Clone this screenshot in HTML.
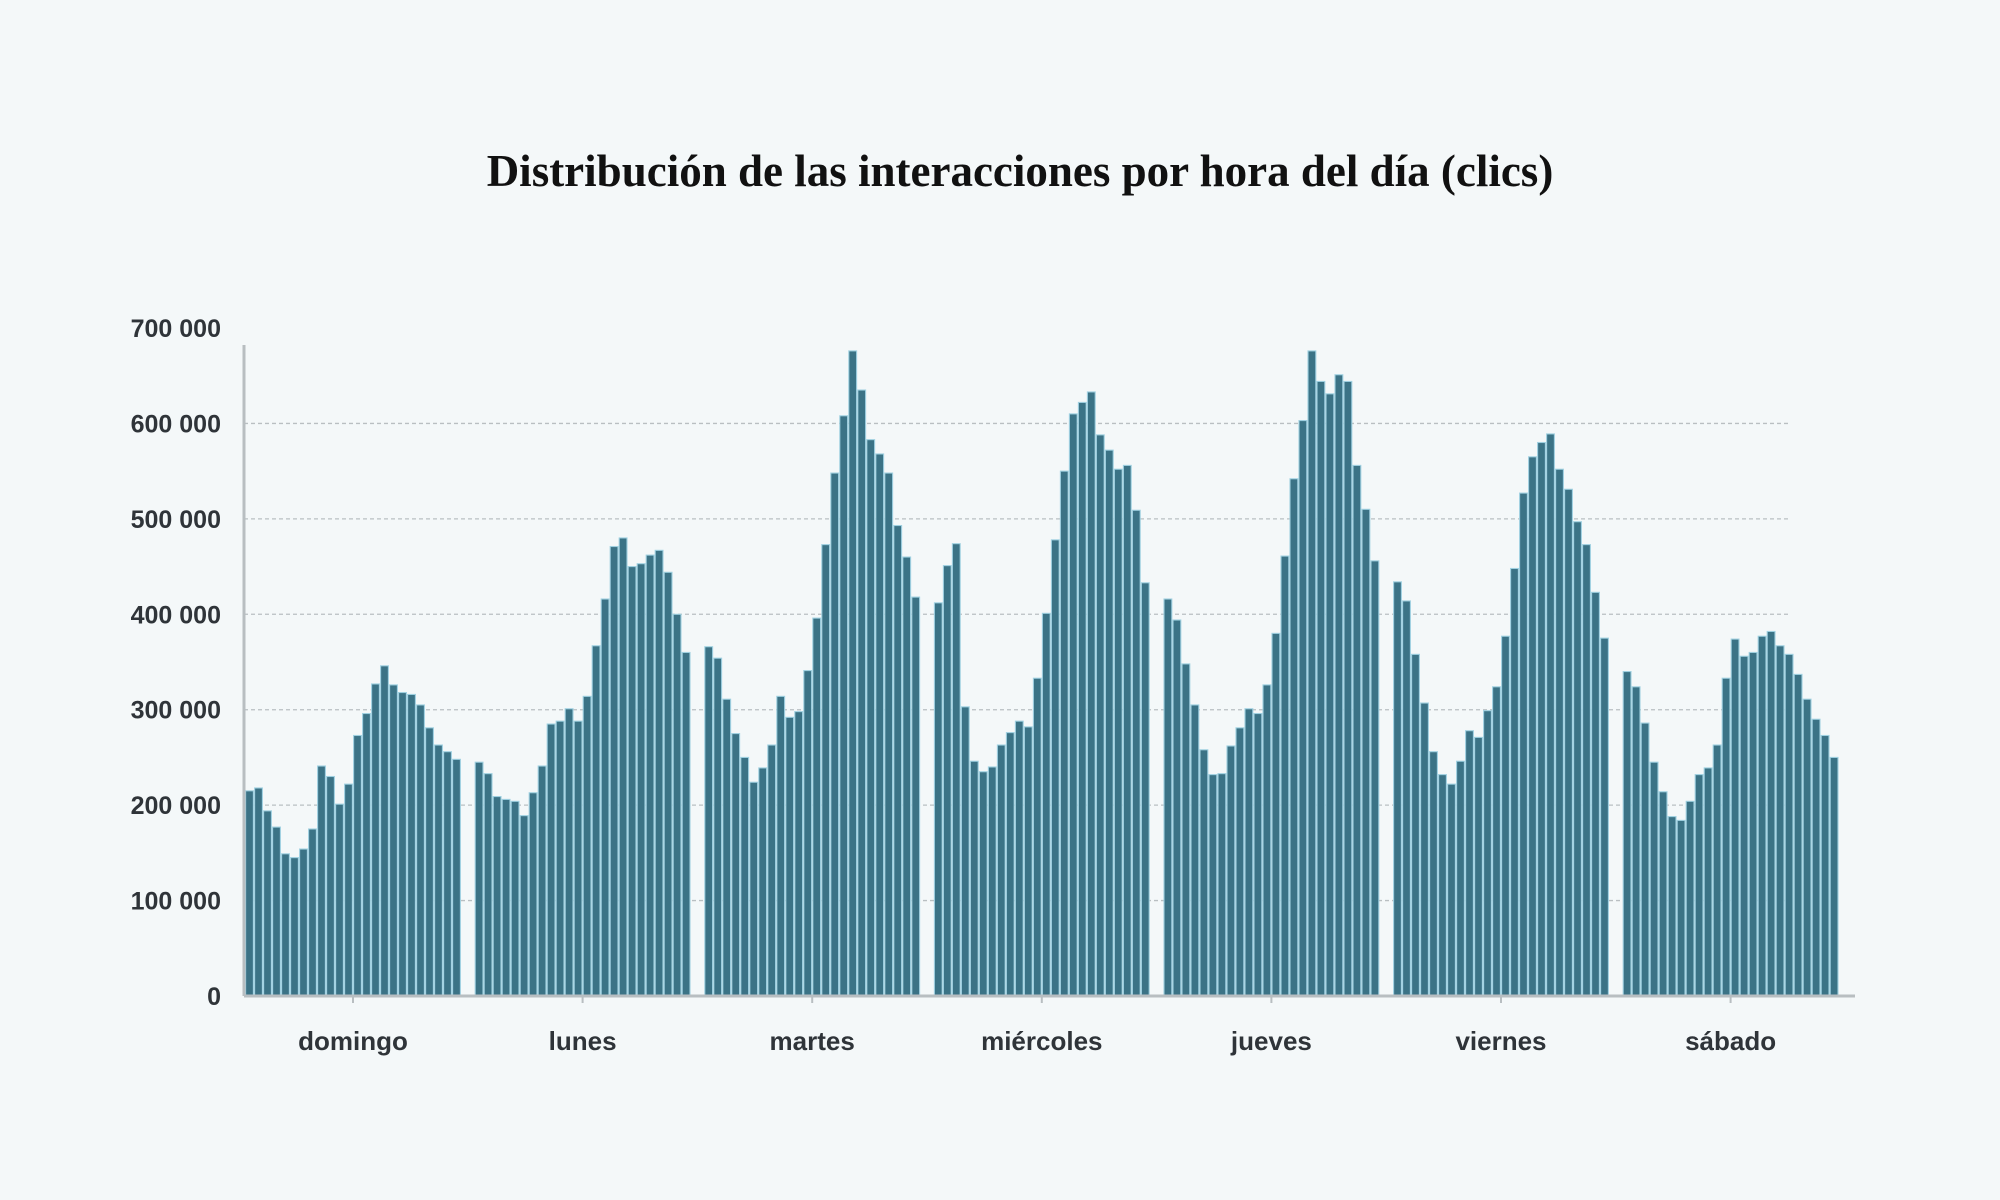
<!DOCTYPE html>
<html><head><meta charset="utf-8"><style>
html,body{margin:0;padding:0;background:#f4f8f9;}
svg{display:block;}
</style></head><body>
<svg width="2000" height="1200" viewBox="0 0 2000 1200" xmlns="http://www.w3.org/2000/svg">
<rect width="2000" height="1200" fill="#f4f8f9"/>
<text x="1020" y="186" text-anchor="middle" font-family="'Liberation Serif', serif" font-weight="bold" font-size="45" fill="#111">Distribución de las interacciones por hora del día (clics)</text>
<g id="grid"></g>
<g id="bars"></g>
<g id="axes"></g>
</svg>
<script>
const days = ["domingo","lunes","martes","miércoles","jueves","viernes","sábado"];
const yTicks = [0,100000,200000,300000,400000,500000,600000,700000];
const yTickLabels = ["0","100 000","200 000","300 000","400 000","500 000","600 000","700 000"];
const domingo = [215,218,194,177,149,145,154,175,241,230,201,222,273,296,327,346,326,318,316,305,281,263,256,248];
const lunes = [245,233,209,206,204,189,213,241,285,288,301,288,314,367,416,471,480,450,453,462,467,444,400,360];
const martes = [366,354,311,275,250,224,239,263,314,292,298,341,396,473,548,608,676,635,583,568,548,493,460,418];
const miercoles = [412,451,474,303,246,235,240,263,276,288,282,333,401,478,550,610,622,633,588,572,552,556,509,433];
const jueves = [416,394,348,305,258,232,233,262,281,301,296,326,380,461,542,603,676,644,631,651,644,556,510,456];
const viernes = [434,414,358,307,256,232,222,246,278,271,299,324,377,448,527,565,580,589,552,531,497,473,423,375];
const sabado = [340,324,286,245,214,188,184,204,232,239,263,333,374,356,360,377,382,367,358,337,311,290,273,250];
const series = [domingo,lunes,martes,miercoles,jueves,viernes,sabado];

const NS="http://www.w3.org/2000/svg";
const X0=245, DAYW=229.6, GROUPW=216, Y0=996, YMAX=700000, YTOP=328;
function y(v){return Y0-(v/YMAX)*(Y0-YTOP);}
function dayStart(d){return X0+d*DAYW;}
function barX(d,h){return dayStart(d)+h*(GROUPW/24);}
function mk(tag,attrs,parent){const e=document.createElementNS(NS,tag);for(const k in attrs)e.setAttribute(k,attrs[k]);parent.appendChild(e);return e;}
const grid=document.getElementById('grid'), bars=document.getElementById('bars'), axes=document.getElementById('axes');

yTicks.forEach((t,i)=>{
  if(t>0 && t<YMAX){
    const l=mk('line',{x1:244,x2:1790,y1:y(t),y2:y(t),stroke:'#b9bfc2','stroke-width':1.3,'stroke-dasharray':'4,3'},grid);
    
    
  }
  const tx=mk('text',{x:221,y:y(t)+9,'text-anchor':'end','font-family':"'Liberation Sans', sans-serif",'font-weight':'bold','font-size':25,fill:'#2f3439'},axes);
  tx.textContent=yTickLabels[i];
  
  
});

const bw=GROUPW/24;
series.forEach((s,d)=>{
  s.forEach((v,h)=>{
    const val=v*1000;
    const r=mk('rect',{x:barX(d,h)+0.6,y:y(val),width:bw-1.2,height:Y0-y(val),fill:'#3b7386',stroke:'#9fd0e0','stroke-width':1.1},bars);
    
    
  });
  const cx=dayStart(d)+GROUPW/2;
  const tk=mk('line',{x1:cx,x2:cx,y1:Y0,y2:Y0+7,stroke:'#b8bec1','stroke-width':2},axes);
  
  
  const lb=mk('text',{x:cx,y:1050,'text-anchor':'middle','font-family':"'Liberation Sans', sans-serif",'font-weight':'bold','font-size':26,fill:'#2f3439'},axes);
  lb.textContent=days[d];
  
  
});

const ya=mk('line',{x1:244,x2:244,y1:345,y2:Y0,stroke:'#b8bec1','stroke-width':3},axes);


const xa=mk('line',{x1:244,x2:1855,y1:Y0,y2:Y0,stroke:'#b8bec1','stroke-width':3},axes);


</script>
</body></html>
